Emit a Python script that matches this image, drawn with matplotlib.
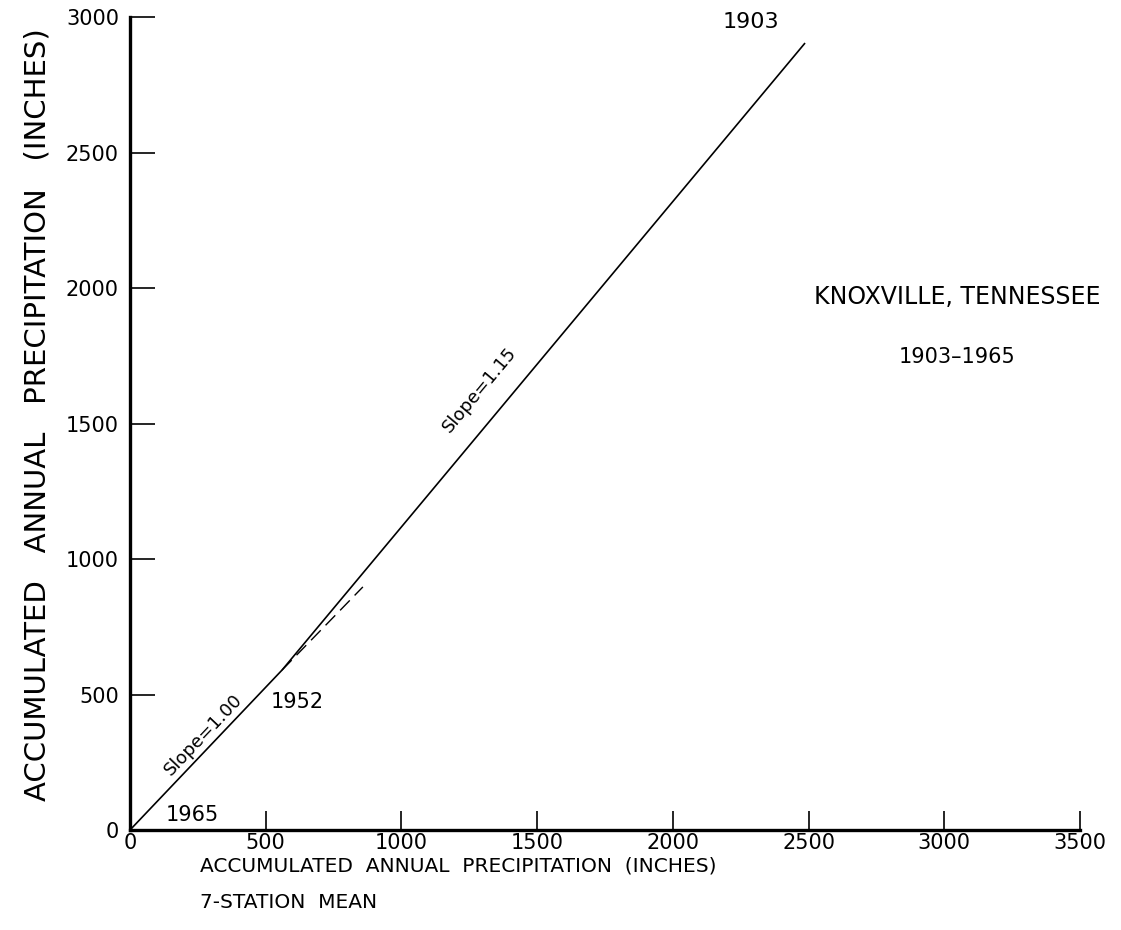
import math
import matplotlib
matplotlib.use("Agg")
import matplotlib.pyplot as plt

# Double-mass curve vertices (7-station mean, Knoxville)
curve_x = [0, 560, 2487]
curve_y = [0, 590, 2904]
# dashed continuation of the slope-1.00 segment beyond the 1952 break
dash_x = [560, 858]
dash_y = [590, 897]

x_ticks = [0, 500, 1000, 1500, 2000, 2500, 3000, 3500]
y_ticks = [0, 500, 1000, 1500, 2000, 2500, 3000]

year_labels = ["1965", "1952", "1903"]
year_pos_x = [228, 615, 2288]
year_pos_y = [55, 472, 2982]
year_sizes = [15, 15, 16]

slope_labels = ["Slope=1.00", "Slope=1.15"]
slope_pos_x = [269, 1289]
slope_pos_y = [351, 1624]

title_lines = ["KNOXVILLE, TENNESSEE", "1903\u20131965"]
title_pos_x = [3047, 3047]
title_pos_y = [1967, 1745]
title_sizes = [17, 15]

plt.rcParams['font.family'] = ['DejaVu Sans']

fig = plt.figure(figsize=(11.21, 9.30), dpi=100)
ax = fig.add_axes([130/1121, 1-830/930, 950/1121, 813/930])

ax.plot(curve_x, curve_y, color='black', lw=1.2, solid_capstyle='butt')
ax.plot(dash_x, dash_y, color='black', lw=1.0, dashes=(10, 5))

ax.set_xlim(0, 3500)
ax.set_ylim(0, 3000)
for s in ['top', 'right']:
    ax.spines[s].set_visible(False)
for s in ['left', 'bottom']:
    ax.spines[s].set_linewidth(2.4)

ax.set_xticks(x_ticks)
ax.set_yticks(y_ticks)
ax.set_xticklabels([str(v) for v in x_ticks], fontsize=15)
ax.set_yticklabels([str(v) for v in y_ticks], fontsize=15)
ax.tick_params(axis='y', direction='in', length=18, width=1.2, pad=8)
ax.tick_params(axis='x', direction='in', length=14, width=1.2, pad=2)

for lab, x, y, fs in zip(year_labels, year_pos_x, year_pos_y, year_sizes):
    ax.text(x, y, lab, fontsize=fs, ha='center', va='center')


def screen_angle(x0, y0, x1, y1):
    p0 = ax.transData.transform((x0, y0))
    p1 = ax.transData.transform((x1, y1))
    return math.degrees(math.atan2(p1[1] - p0[1], p1[0] - p0[0]))


ang1 = screen_angle(curve_x[0], curve_y[0], curve_x[1], curve_y[1])
ang2 = screen_angle(curve_x[1], curve_y[1], curve_x[2], curve_y[2])
for lab, x, y, a in zip(slope_labels, slope_pos_x, slope_pos_y, [ang1, ang2]):
    ax.text(x, y, lab, fontsize=13, ha='center', va='center', rotation=a,
            rotation_mode='anchor')

for lab, x, y, fs in zip(title_lines, title_pos_x, title_pos_y, title_sizes):
    ax.text(x, y, lab, fontsize=fs, ha='center', va='center')

fig.text(38/1121, 1-415/930, "ACCUMULATED   ANNUAL   PRECIPITATION   (INCHES)",
         rotation=90, fontsize=21, ha='center', va='center')
fig.text(200/1121, 1-866/930, "ACCUMULATED  ANNUAL  PRECIPITATION  (INCHES)",
         fontsize=14.5, ha='left', va='center')
fig.text(200/1121, 1-902/930, "7-STATION  MEAN",
         fontsize=14.5, ha='left', va='center')

fig.savefig("out.png", dpi=100)
